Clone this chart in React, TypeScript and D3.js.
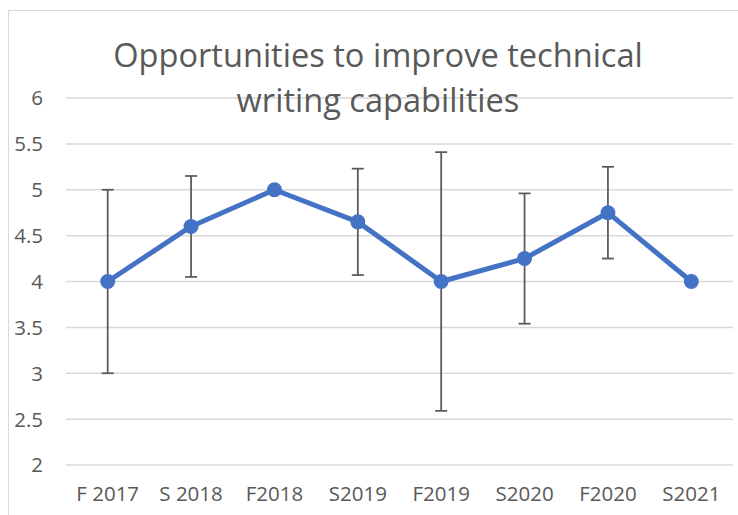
import React from "react";
import * as d3 from "d3";

const categories = ["F 2017", "S 2018", "F2018", "S2019", "F2019", "S2020", "F2020", "S2021"];
const values = [4, 4.6, 5, 4.65, 4, 4.25, 4.75, 4];
const errors = [1, 0.55, 0, 0.58, 1.41, 0.71, 0.5, 0];
const yTicks = [2, 2.5, 3, 3.5, 4, 4.5, 5, 5.5, 6];
const titleLines = ["Opportunities to improve technical", "writing capabilities"];

const W = 738;
const H = 515;
const FONT = "'Open Sans', 'Noto Sans', sans-serif";
const TEXT = "#595959";

export default function App() {
  const x = d3.scaleBand<string>().domain(categories).range([66, 733]);
  const y = d3.scaleLinear().domain([2, 6]).range([465, 98]);
  const cx = (c: string) => (x(c) as number) + x.bandwidth() / 2;
  const pts = categories.map((c, i) => ({ c, v: values[i], e: errors[i] }));
  const line = d3
    .line<{ c: string; v: number }>()
    .x((d) => cx(d.c))
    .y((d) => y(d.v));

  return (
    <svg
      width={W}
      height={H}
      style={{ position: "absolute", left: 0, top: 0, background: "#fff" }}
      fontFamily={FONT}
    >
      <rect x={8.5} y={10.5} width={740} height={520} fill="#fff" stroke="#d9d9d9" strokeWidth={1} />
      {yTicks.map((t) => (
        <g key={t}>
          <line x1={66} x2={733} y1={y(t)} y2={y(t)} stroke="#d9d9d9" strokeWidth={1.5} />
          <text x={43} y={y(t)} dy="0.36em" textAnchor="end" fontSize={20.5} fill={TEXT}>
            {t}
          </text>
        </g>
      ))}
      {titleLines.map((l, i) => (
        <text key={i} x={378} y={67 + i * 45} textAnchor="middle" fontSize={32.6} fill={TEXT}>
          {l}
        </text>
      ))}
      {categories.map((c) => (
        <text key={c} x={cx(c)} y={501} textAnchor="middle" fontSize={20.5} fill={TEXT}>
          {c}
        </text>
      ))}
      <path d={line(pts) || ""} fill="none" stroke="#4472C4" strokeWidth={5} strokeLinejoin="round" />
      {pts
        .filter((p) => p.e > 0)
        .map((p) => (
          <g key={p.c} stroke="#595959" strokeWidth={1.75}>
            <line x1={cx(p.c)} x2={cx(p.c)} y1={y(p.v + p.e)} y2={y(p.v - p.e)} />
            <line x1={cx(p.c) - 6} x2={cx(p.c) + 6} y1={y(p.v + p.e)} y2={y(p.v + p.e)} />
            <line x1={cx(p.c) - 6} x2={cx(p.c) + 6} y1={y(p.v - p.e)} y2={y(p.v - p.e)} />
          </g>
        ))}
      {pts.map((p) => (
        <circle key={p.c} cx={cx(p.c)} cy={y(p.v)} r={7.5} fill="#4472C4" />
      ))}
    </svg>
  );
}
